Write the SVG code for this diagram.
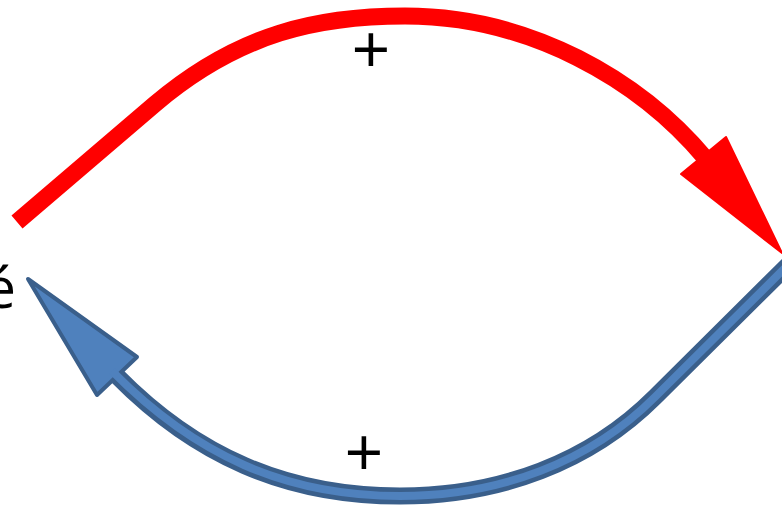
<svg xmlns="http://www.w3.org/2000/svg" width="782" height="505" viewBox="0 0 782 505">
<style>
.lbl{font-family:"Open Sans","Liberation Sans",sans-serif;fill:#000}
.red{fill:none;stroke:#FF0000;stroke-width:17}
.bluedark{fill:none;stroke:#3A5F8B;stroke-width:17}
.bluelight{fill:none;stroke:#4F81BD;stroke-width:8}
</style>
<rect width="782" height="505" fill="#fff"/>
<g id="label-e"><text class="lbl" x="16" y="308" font-size="56" text-anchor="end">é</text></g>
<g id="connectors">
<g id="red-arrow">
<path class="red" d="M17,222 L155,104 C240,32 320,16 405,16 C530,16 640,80 706,159"/>
<polygon points="681,174 726,137 782,253" fill="#FF0000" stroke="#FF0000" stroke-width="2" stroke-linejoin="round"/>
</g>
<g id="blue-arrow">
<path class="bluedark" d="M795,258 L655,397 C590,462 500,496 400,496 C285,496 195,455 117,376"/>
<polygon points="137,357 28,279 97,395" fill="#4F81BD" stroke="#3A5F8B" stroke-width="4" stroke-linejoin="round"/>
<path class="bluelight" d="M795,258 L655,397 C590,462 500,496 400,496 C285,496 195,455 112,371"/>
</g>
</g>
<g id="plus-top"><text class="lbl" x="371" y="74" font-size="68" text-anchor="middle">+</text></g>
<g id="plus-bottom"><text class="lbl" x="364" y="477" font-size="68" text-anchor="middle">+</text></g>
</svg>
